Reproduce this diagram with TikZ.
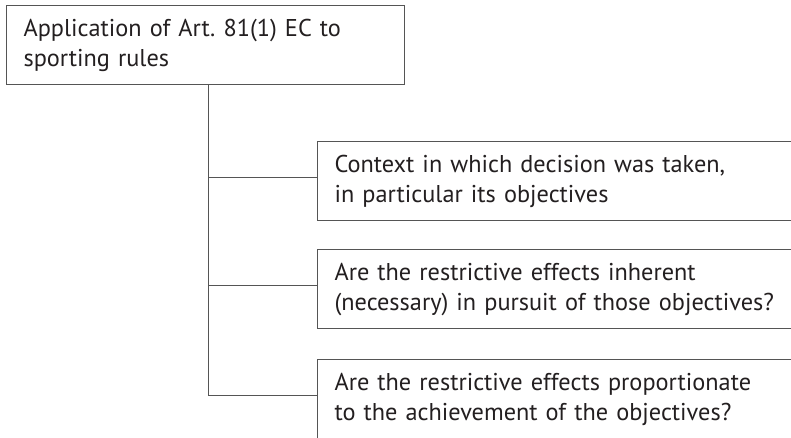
\documentclass[tikz,border=0pt]{standalone}
\usepackage{fontspec}
\setmainfont{PT Sans}
\usepackage{tikz}
\usetikzlibrary{calc,positioning}
\frenchspacing

\definecolor{linegray}{HTML}{555555}
\definecolor{textgray}{HTML}{231F20}

\tikzset{
  qbox/.style={draw=linegray, line width=1.1pt, anchor=north west,
    minimum height=79pt, align=left, inner xsep=17pt,
    text=textgray, font=\fontsize{24.3}{30}\selectfont},
  topbox/.style={qbox, text width=364pt},
  sidebox/.style={qbox, text width=480pt},
  branch/.style={draw=linegray, line width=1.1pt}
}

\begin{document}
\begin{tikzpicture}[x=1pt,y=1pt]
			\path[use as bounding box, clip] (0,0) rectangle (791,437);
			\fill[white] (0,0) rectangle (791,437);
			
			% heading box
			\node[topbox] (app) at (6,432) {Application of Art. 81(1) EC to\\sporting rules};
			
			% questions, open to the right
			\node[sidebox] (q1) at (317,296) {Context in which decision was taken,\\in particular its objectives};
			\node[sidebox] (q2) at (317,188) {Are the restrictive effects inherent\\(necessary) in pursuit of those objectives?};
			\node[sidebox] (q3) at (317,78) {Are the restrictive effects proportionate\\to the achievement of the objectives?};
			
			% tree lines
			\coordinate (trunk) at ([xshift=3pt]app.south);
			\draw[branch] (trunk) |- ([yshift=4pt]q3.west);
			\draw[branch] ([yshift=4pt]q1.west) -| (trunk);
			\draw[branch] ([yshift=4pt]q2.west) -| (trunk);
		\end{tikzpicture}
\end{document}
